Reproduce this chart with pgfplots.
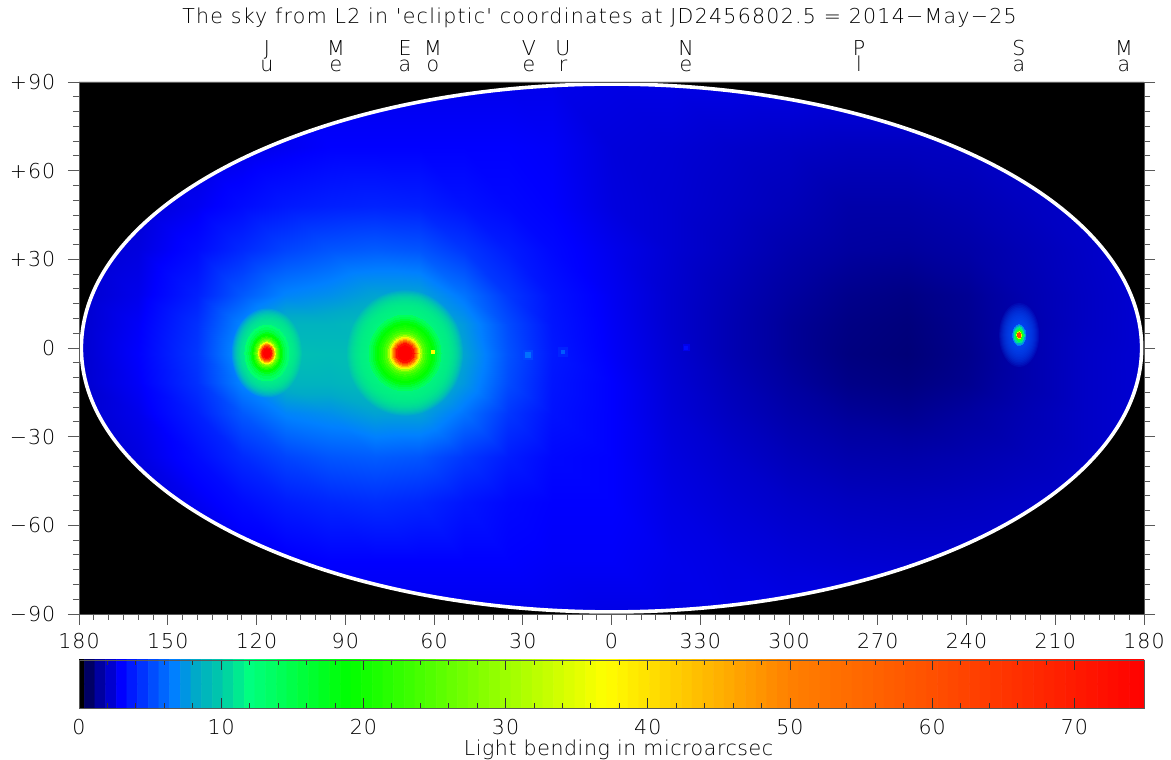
\documentclass[border=0pt]{standalone}
\usepackage{pgfplots}
\pgfplotsset{compat=1.18}
\usepackage{fontspec}
\newfontfamily\hf[LetterSpace=5]{DejaVu Sans ExtraLight}
\newfontfamily\hft[LetterSpace=6.2]{DejaVu Sans ExtraLight}
\newfontfamily\hfx[LetterSpace=2.8]{DejaVu Sans ExtraLight}
\newcommand\tf{\hf\fontsize{15.4}{18}\selectfont}
\definecolor{ax}{gray}{0.35}
\definecolor{tx}{gray}{0}
\pgfplotsset{skycm/.style={colormap={sky}{rgb255(0pt)=(0,0,0); rgb255(3pt)=(0,0,100); rgb255(6pt)=(0,0,160); rgb255(12pt)=(0,0,255); rgb255(27pt)=(0,128,255); rgb255(33pt)=(0,170,200); rgb255(40pt)=(0,200,170); rgb255(48pt)=(0,255,128); rgb255(76pt)=(0,255,0); rgb255(148pt)=(255,255,0); rgb255(200pt)=(255,128,0); rgb255(240pt)=(255,80,0); rgb255(300pt)=(255,0,0)},
 point meta min=0, point meta max=75},
 rings/.style={scatter, only marks, mark=#1, point meta=\thisrow{v},
  scatter/use mapped color={draw=mapped color,fill=mapped color}, line width=0pt,
  visualization depends on={\thisrow{r}*0.75 \as \rad},
  scatter/@pre marker code/.append style={/tikz/mark size=\rad}}}
\begin{document}
\begin{tikzpicture}[x=0.75pt,y=0.75pt,font=\tf,text=tx]
\path[use as bounding box] (0,0) rectangle (1171,760);
\begin{axis}[at={(59.25pt,109.5pt)},anchor=south west,scale only axis,width=798.75pt,height=399pt,skycm,
 xmin=-180,xmax=180,ymin=-90,ymax=90,axis line style={ax,line width=0.7pt},
 tick style={ax,line width=0.6pt},tick align=outside,xtick pos=bottom,ytick pos=both,
 xtick={-180,-150,...,180},xticklabels={180,150,120,90,60,30,0,330,300,270,240,210,180},
 ytick={-90,-60,...,90},yticklabels={−90,−60,−30,0,+30,+60,+90},
 minor x tick num=5,minor y tick num=5,
 major tick length=8.25pt,minor tick length=4.5pt,
 tick label style={font=\tf,text=tx},xticklabel style={yshift=-3pt},yticklabel style={xshift=-6pt},axis on top]
\addplot[surf,shader=interp,mesh/cols=21,point meta=\thisrow{v}] table[row sep=\\,x=x,y=y]{
x y v\\
-180 -90 2.6\\-160 -90 2.6\\-140 -90 2.6\\-125 -90 2.7\\-110 -90 2.7\\-95 -90 2.7\\-80 -90 2.7\\-65 -90 2.7\\-50 -90 2.7\\-35 -90 2.7\\-20 -90 2.7\\0 -90 2.6\\20 -90 2.6\\40 -90 2.6\\60 -90 2.6\\80 -90 2.6\\100 -90 2.6\\120 -90 2.6\\140 -90 2.6\\160 -90 2.6\\180 -90 2.6\\
-180 -72 2.3\\-160 -72 2.3\\-140 -72 2.4\\-125 -72 2.6\\-110 -72 2.8\\-95 -72 3.0\\-80 -72 3.0\\-65 -72 3.0\\-50 -72 3.0\\-35 -72 3.0\\-20 -72 2.9\\0 -72 2.9\\20 -72 2.7\\40 -72 2.55\\60 -72 2.4\\80 -72 2.3\\100 -72 2.25\\120 -72 2.25\\140 -72 2.3\\160 -72 2.35\\180 -72 2.35\\
-180 -52 2.2\\-160 -52 2.3\\-140 -52 2.8\\-125 -52 3.3\\-110 -52 3.8\\-95 -52 4.1\\-80 -52 4.3\\-65 -52 4.1\\-50 -52 3.6\\-35 -52 3.2\\-20 -52 3.0\\0 -52 3.0\\20 -52 2.6\\40 -52 2.35\\60 -52 2.15\\80 -52 2.0\\100 -52 1.95\\120 -52 2.0\\140 -52 2.1\\160 -52 2.2\\180 -52 2.3\\
-180 -37 2.2\\-160 -37 2.5\\-140 -37 3.3\\-125 -37 4.2\\-110 -37 5.0\\-95 -37 5.5\\-80 -37 5.7\\-65 -37 5.5\\-50 -37 4.6\\-35 -37 3.8\\-20 -37 3.2\\0 -37 3.0\\20 -37 2.5\\40 -37 2.2\\60 -37 1.9\\80 -37 1.7\\100 -37 1.65\\120 -37 1.75\\140 -37 1.9\\160 -37 2.1\\180 -37 2.3\\
-180 -22 2.2\\-160 -22 2.7\\-140 -22 3.9\\-125 -22 5.6\\-110 -22 6.9\\-95 -22 7.3\\-80 -22 8.0\\-65 -22 8.0\\-50 -22 6.4\\-35 -22 4.6\\-20 -22 3.5\\0 -22 3.0\\20 -22 2.4\\40 -22 2.0\\60 -22 1.65\\80 -22 1.4\\100 -22 1.3\\120 -22 1.5\\140 -22 1.8\\160 -22 2.1\\180 -22 2.3\\
-180 -12 2.2\\-160 -12 2.9\\-140 -12 4.4\\-125 -12 6.9\\-110 -12 8.8\\-95 -12 8.8\\-80 -12 9.3\\-65 -12 9.6\\-50 -12 7.6\\-35 -12 5.2\\-20 -12 3.6\\0 -12 3.0\\20 -12 2.35\\40 -12 1.9\\60 -12 1.5\\80 -12 1.2\\100 -12 1.1\\120 -12 1.3\\140 -12 1.7\\160 -12 2.1\\180 -12 2.3\\
-180 -2 2.2\\-160 -2 3.0\\-140 -2 4.6\\-125 -2 7.5\\-110 -2 9.5\\-95 -2 9.3\\-80 -2 9.3\\-65 -2 10\\-50 -2 8.0\\-35 -2 5.4\\-20 -2 3.7\\0 -2 2.9\\20 -2 2.3\\40 -2 1.8\\60 -2 1.4\\80 -2 1.1\\100 -2 1.0\\120 -2 1.25\\140 -2 1.7\\160 -2 2.1\\180 -2 2.3\\
-180 8 2.2\\-160 8 2.9\\-140 8 4.4\\-125 8 6.9\\-110 8 8.8\\-95 8 8.8\\-80 8 9.3\\-65 8 9.6\\-50 8 7.6\\-35 8 5.2\\-20 8 3.6\\0 8 2.85\\20 8 2.25\\40 8 1.8\\60 8 1.4\\80 8 1.15\\100 8 1.05\\120 8 1.3\\140 8 1.7\\160 8 2.05\\180 8 2.3\\
-180 18 2.2\\-160 18 2.7\\-140 18 3.9\\-125 18 5.6\\-110 18 6.9\\-95 18 7.3\\-80 18 8.0\\-65 18 8.0\\-50 18 6.4\\-35 18 4.6\\-20 18 3.5\\0 18 2.8\\20 18 2.25\\40 18 1.85\\60 18 1.5\\80 18 1.25\\100 18 1.15\\120 18 1.35\\140 18 1.75\\160 18 2.05\\180 18 2.3\\
-180 33 2.2\\-160 33 2.5\\-140 33 3.3\\-125 33 4.2\\-110 33 5.0\\-95 33 5.5\\-80 33 5.7\\-65 33 5.5\\-50 33 4.6\\-35 33 3.8\\-20 33 3.2\\0 33 2.7\\20 33 2.3\\40 33 2.0\\60 33 1.7\\80 33 1.5\\100 33 1.45\\120 33 1.6\\140 33 1.85\\160 33 2.1\\180 33 2.3\\
-180 48 2.2\\-160 48 2.3\\-140 48 2.8\\-125 48 3.3\\-110 48 3.7\\-95 48 3.9\\-80 48 4.0\\-65 48 3.9\\-50 48 3.5\\-35 48 3.2\\-20 48 3.0\\0 48 2.5\\20 48 2.3\\40 48 2.1\\60 48 1.9\\80 48 1.65\\100 48 1.65\\120 48 1.8\\140 48 2.0\\160 48 2.15\\180 48 2.3\\
-180 68 2.3\\-160 68 2.3\\-140 68 2.4\\-125 68 2.6\\-110 68 2.8\\-95 68 3.0\\-80 68 3.0\\-65 68 3.0\\-50 68 3.0\\-35 68 3.0\\-20 68 2.9\\0 68 2.45\\20 68 2.35\\40 68 2.2\\60 68 2.1\\80 68 2.0\\100 68 2.0\\120 68 2.05\\140 68 2.15\\160 68 2.2\\180 68 2.3\\
-180 90 2.6\\-160 90 2.6\\-140 90 2.6\\-125 90 2.7\\-110 90 2.7\\-95 90 2.7\\-80 90 2.7\\-65 90 2.7\\-50 90 2.7\\-35 90 2.7\\-20 90 2.7\\0 90 2.6\\20 90 2.6\\40 90 2.6\\60 90 2.6\\80 90 2.6\\100 90 2.6\\120 90 2.6\\140 90 2.6\\160 90 2.6\\180 90 2.6\\
};
% Earth halo and core
\addplot[rings=*,mark options={yscale=1.08,fill opacity=0.1,draw opacity=0}] table[row sep=\\]{
x y r v\\
-69.8 -1.7 58 12.2\\-69.8 -1.7 57 12.2\\-69.8 -1.7 56 12.2\\-69.8 -1.7 55 12.2\\-69.8 -1.7 54 12.2\\-69.8 -1.7 53 12.2\\-69.8 -1.7 52 12.2\\-69.8 -1.7 51 12.2\\-69.8 -1.7 50 12.2\\-69.8 -1.7 49 12.2\\-69.8 -1.7 48 12.2\\-69.8 -1.7 47 12.2\\-69.8 -1.7 46 12.2\\-69.8 -1.7 45 12.2\\-69.8 -1.7 44 12.2\\-69.8 -1.7 43 12.2\\-69.8 -1.7 42 12.2\\-69.8 -1.7 41 12.2\\-69.8 -1.7 40 12.2\\-69.8 -1.7 39 12.2\\-69.8 -1.7 38 12.2\\-69.8 -1.7 37 12.2\\
};
\addplot[rings=*,mark options={yscale=1.05}] table[row sep=\\]{
x y r v\\
-69.8 -1.7 36 14\\-69.8 -1.7 34 15\\-69.8 -1.7 32 16.5\\-69.8 -1.7 30 18\\-69.8 -1.7 28 19\\-69.8 -1.7 26 20\\-69.8 -1.7 24 21\\-69.8 -1.7 22 22.5\\-69.8 -1.7 20 24.5\\-69.8 -1.7 18 27\\-69.8 -1.7 16.5 31\\-69.8 -1.7 15 36\\-69.8 -1.7 14 40\\-69.8 -1.7 13 45\\-69.8 -1.7 12 50\\-69.8 -1.7 11 56\\-69.8 -1.7 10 64\\-69.8 -1.7 9 72\\-69.8 -1.7 7 75\\
};
% Jupiter halo and core
\addplot[rings=*,mark options={yscale=1.27,fill opacity=0.13,draw opacity=0}] table[row sep=\\]{
x y r v\\
-116.5 -1.7 35 12.2\\-116.5 -1.7 34 12.2\\-116.5 -1.7 33 12.2\\-116.5 -1.7 32 12.2\\-116.5 -1.7 31 12.2\\-116.5 -1.7 30 12.2\\-116.5 -1.7 29 12.2\\-116.5 -1.7 28 12.2\\-116.5 -1.7 27 12.2\\-116.5 -1.7 26 12.2\\-116.5 -1.7 25 12.2\\-116.5 -1.7 24 12.2\\-116.5 -1.7 23 12.2\\
};
\addplot[rings=*,mark options={yscale=1.27}] table[row sep=\\]{
x y r v\\
-116.5 -1.7 22 13\\-116.5 -1.7 20 14\\-116.5 -1.7 18 15.5\\-116.5 -1.7 16 17.5\\-116.5 -1.7 14.7 19\\-116.5 -1.7 13 21\\-116.5 -1.7 12 23\\-116.5 -1.7 11 25.5\\-116.5 -1.7 10 28\\-116.5 -1.7 9 32\\-116.5 -1.7 8.3 37\\-116.5 -1.7 7.5 43\\-116.5 -1.7 6.8 49\\-116.5 -1.7 6 57\\-116.5 -1.7 5.2 65\\-116.5 -1.7 4.6 72\\-116.5 -1.7 3.5 75\\
};
% Saturn halo and core
\addplot[rings=*,mark options={yscale=1.6,fill opacity=0.12,draw opacity=0}] table[row sep=\\]{
x y r v\\
137.8 4.4 20 5.5\\137.8 4.4 19 5.5\\137.8 4.4 18 5.5\\137.8 4.4 17 5.5\\137.8 4.4 16 5.5\\137.8 4.4 15 5.5\\137.8 4.4 14 5.5\\137.8 4.4 13 5.5\\137.8 4.4 12 5.5\\137.8 4.4 11 5.5\\137.8 4.4 10 5.5\\137.8 4.4 9 5.5\\137.8 4.4 8 5.5\\137.8 4.4 7 5.5\\
};
\addplot[rings=*,mark options={yscale=1.6}] table[row sep=\\]{
x y r v\\
137.8 4.4 6.5 6.5\\137.8 4.4 6 8\\137.8 4.4 5 11\\137.8 4.4 4 15\\137.8 4.4 3 22\\137.8 4.4 2.3 35\\137.8 4.4 1.7 62\\
};
% Venus, Uranus, Neptune, Moon
\addplot[rings=square*] table[row sep=\\]{
x y r v\\
-28.2 -2.4 4.5 5.0\\-28.2 -2.4 2.5 6.3\\-16.4 -1.4 4.5 4.0\\-16.4 -1.4 1.7 5.6\\25.2 0 3 2.7\\25.2 0 1.7 3.3\\-60.3 -1.4 1.7 37\\
};
\fill[black,even odd rule] (axis cs:-180,-90) rectangle (axis cs:180,90) (axis cs:0,0) ellipse [x radius=179.2,y radius=89.3];
\draw[white,line width=2.7pt] (axis cs:0,0) ellipse [x radius=179.2,y radius=89.3];
\end{axis}
\begin{axis}[at={(59.25pt,39pt)},anchor=south west,scale only axis,width=798.75pt,height=36pt,skycm,
 xmin=0,xmax=74.9,ymin=0,ymax=1,ytick=\empty,xtick={0,10,...,70},minor x tick num=4,
 axis line style={ax,line width=0.7pt},tick style={black!80,line width=0.6pt},tick align=inside,xtick pos=both,
 major tick length=7.5pt,minor tick length=3.75pt,tick label style={font=\tf,text=tx},xticklabel style={yshift=-5pt},axis on top,
 xticklabel pos=lower,xticklabels={0,10,20,30,40,50,60,70}]
\addplot[matrix plot*,mesh/cols=101,point meta=x] coordinates {
(0,0)(0.75,0)(1.5,0)(2.25,0)(3,0)(3.75,0)(4.5,0)(5.25,0)(6,0)(6.75,0)(7.5,0)(8.25,0)(9,0)(9.75,0)(10.5,0)(11.25,0)(12,0)(12.75,0)(13.5,0)(14.25,0)(15,0)(15.75,0)(16.5,0)(17.25,0)(18,0)(18.75,0)(19.5,0)(20.25,0)(21,0)(21.75,0)(22.5,0)(23.25,0)(24,0)(24.75,0)(25.5,0)(26.25,0)(27,0)(27.75,0)(28.5,0)(29.25,0)(30,0)(30.75,0)(31.5,0)(32.25,0)(33,0)(33.75,0)(34.5,0)(35.25,0)(36,0)(36.75,0)(37.5,0)(38.25,0)(39,0)(39.75,0)(40.5,0)(41.25,0)(42,0)(42.75,0)(43.5,0)(44.25,0)(45,0)(45.75,0)(46.5,0)(47.25,0)(48,0)(48.75,0)(49.5,0)(50.25,0)(51,0)(51.75,0)(52.5,0)(53.25,0)(54,0)(54.75,0)(55.5,0)(56.25,0)(57,0)(57.75,0)(58.5,0)(59.25,0)(60,0)(60.75,0)(61.5,0)(62.25,0)(63,0)(63.75,0)(64.5,0)(65.25,0)(66,0)(66.75,0)(67.5,0)(68.25,0)(69,0)(69.75,0)(70.5,0)(71.25,0)(72,0)(72.75,0)(73.5,0)(74.25,0)(75,0)
(0,1)(0.75,1)(1.5,1)(2.25,1)(3,1)(3.75,1)(4.5,1)(5.25,1)(6,1)(6.75,1)(7.5,1)(8.25,1)(9,1)(9.75,1)(10.5,1)(11.25,1)(12,1)(12.75,1)(13.5,1)(14.25,1)(15,1)(15.75,1)(16.5,1)(17.25,1)(18,1)(18.75,1)(19.5,1)(20.25,1)(21,1)(21.75,1)(22.5,1)(23.25,1)(24,1)(24.75,1)(25.5,1)(26.25,1)(27,1)(27.75,1)(28.5,1)(29.25,1)(30,1)(30.75,1)(31.5,1)(32.25,1)(33,1)(33.75,1)(34.5,1)(35.25,1)(36,1)(36.75,1)(37.5,1)(38.25,1)(39,1)(39.75,1)(40.5,1)(41.25,1)(42,1)(42.75,1)(43.5,1)(44.25,1)(45,1)(45.75,1)(46.5,1)(47.25,1)(48,1)(48.75,1)(49.5,1)(50.25,1)(51,1)(51.75,1)(52.5,1)(53.25,1)(54,1)(54.75,1)(55.5,1)(56.25,1)(57,1)(57.75,1)(58.5,1)(59.25,1)(60,1)(60.75,1)(61.5,1)(62.25,1)(63,1)(63.75,1)(64.5,1)(65.25,1)(66,1)(66.75,1)(67.5,1)(68.25,1)(69,1)(69.75,1)(70.5,1)(71.25,1)(72,1)(72.75,1)(73.5,1)(74.25,1)(75,1)
};
\end{axis}
\node[anchor=base,font=\hft\fontsize{15.4}{18}\selectfont] at (599.5,736) {The sky from L2 in \char39ecliptic\char39{} coordinates at JD2456802.5 = 2014−May−25};
\node[anchor=base,font=\hfx\fontsize{15.4}{18}\selectfont] at (618.5,4) {Light bending in microarcsec};
\foreach \x/\a/\b in {267/J/u,336/M/e,405/E/a,433/M/o,529/V/e,563/U/r,686/N/e,859/P/l,1019/S/a,1124/M/a}{
 \node[anchor=base,inner sep=0pt] at (\x,704) {\a};
 \node[anchor=base,inner sep=0pt] at (\x,688) {\b};
}
\end{tikzpicture}
\end{document}
